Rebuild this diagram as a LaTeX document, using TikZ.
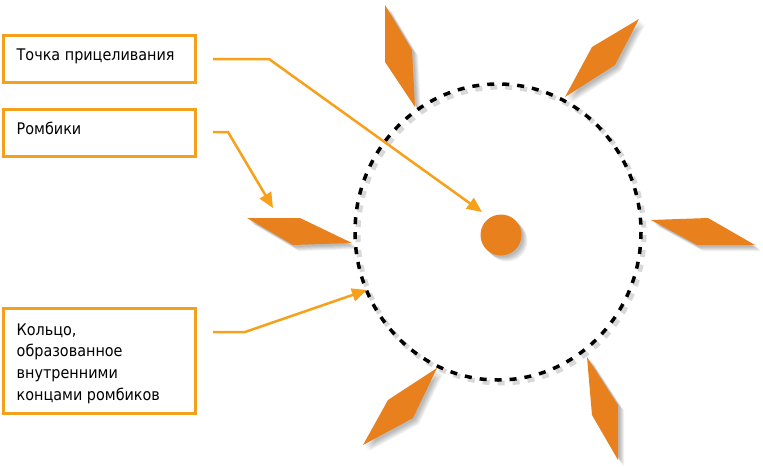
\documentclass[tikz,border=0pt]{standalone}
\usepackage{fontspec}
\setmainfont{DejaVu Sans Condensed}
\usetikzlibrary{arrows.meta}
\definecolor{boxor}{HTML}{F5A01A}
\definecolor{lineor}{HTML}{F7A11A}
\definecolor{rhor}{HTML}{E8801E}
\newcommand\myrhomb[4]{%
  \foreach \s in {2,3,4,5,6}{\fill[shadowlayer, shift={(\s,\s)}] #1 -- #2 -- #3 -- #4 -- cycle;}
  \fill[rhomb] #1 -- #2 -- #3 -- #4 -- cycle;}
\begin{document}
\begin{tikzpicture}[x=1pt,y=-1pt,
  box/.style={draw=boxor, line width=3pt, minimum width=192pt, minimum height=47pt, inner sep=0pt, fill=white},
  lbl/.style={inner sep=0pt, font=\fontsize{16}{21.7}\selectfont, align=left},
  conn/.style={draw=lineor, line width=2.5pt, -{Triangle[length=15pt,width=13pt]}, line join=miter},
  rhomb/.style={fill=rhor},
  shadowlayer/.style={fill=black, opacity=0.06},
  ring/.style={draw=black, line width=3.5pt, dash pattern=on 7pt off 8pt}]
\useasboundingbox (0,0) rectangle (763,466);
\fill[white] (0,0) rectangle (763,466);

% ring with shadow
\draw[ring, draw=black!60, opacity=0.25, line width=5pt] (501,235) ellipse [x radius=143, y radius=148];
\draw[ring] (498,232) ellipse [x radius=143, y radius=148];

% rhombi
\myrhomb{(247,218)}{(300,218)}{(352,243)}{(293,245)}
\myrhomb{(651,220)}{(708,218)}{(755,245)}{(697,245)}
\myrhomb{(385,5)}{(412,50)}{(415,107)}{(385,62)}
\myrhomb{(639,19)}{(592,47)}{(565,97)}{(615,65)}
\myrhomb{(437,368)}{(388,400)}{(363,445)}{(413,418)}
\myrhomb{(587,357)}{(618,405)}{(618,460)}{(592,415)}

% aim point
\foreach \s in {2,3,4,5,6}{\fill[shadowlayer] (501+\s,235+\s) circle (20.5);}
\node[circle, fill=rhor, minimum size=41pt, inner sep=0pt] (aim) at (501,235) {};

% boxes
\node[box] (b1) at (99.5,58.5) {};
\node[box] (b2) at (99.5,133) {};
\node[box, minimum height=105pt] (b3) at (99.5,361) {};
\node[lbl, anchor=base west] (t1) at (16.5,60.5) {Точка прицеливания};
\node[lbl, anchor=base west] (t2) at (16.5,134) {Ромбики};
\node[lbl, anchor=north west] (t3) at (16.5,323.3) {Кольцо,\\образованное\\внутренними\\концами ромбиков};

% connector points
\coordinate (s1) at (213,59);
\coordinate (k1) at (269,59);
\coordinate (e1) at (482,212);
\coordinate (s2) at (213,132);
\coordinate (k2) at (228,132);
\coordinate (e2) at (273,208);
\coordinate (s3) at (213,332);
\coordinate (k3) at (245,332);
\coordinate (e3) at (367,290);

\draw[conn] (s1) -- (k1) -- (e1);
\draw[conn] (s2) -- (k2) -- (e2);
\draw[conn] (s3) -- (k3) -- (e3);
\end{tikzpicture}
\end{document}
